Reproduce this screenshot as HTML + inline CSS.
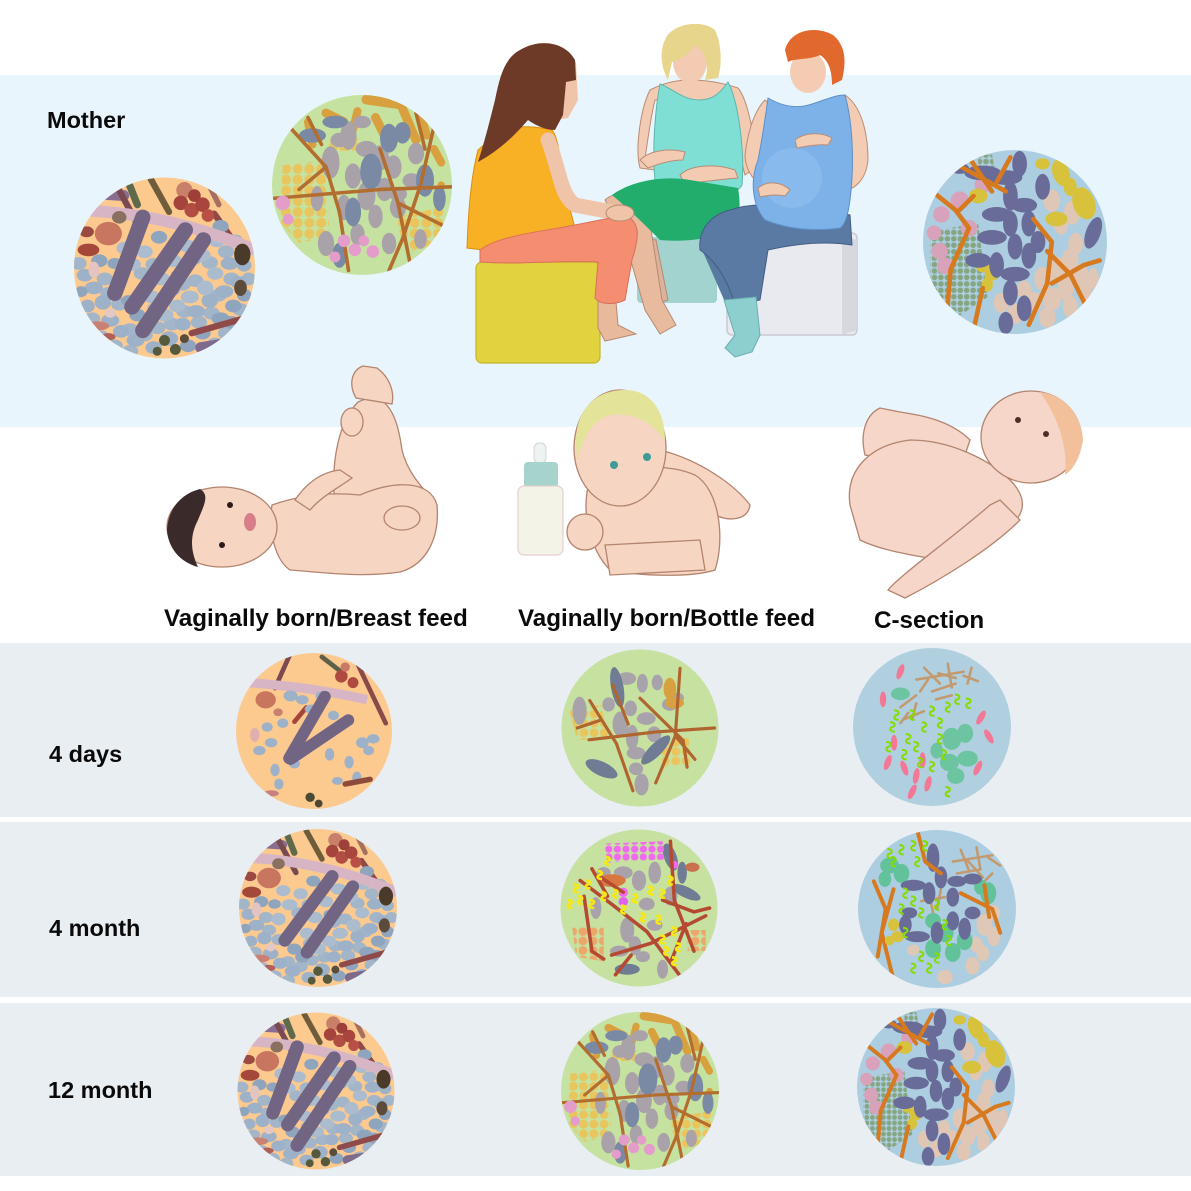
<!DOCTYPE html>
<html><head><meta charset="utf-8"><style>
html,body{margin:0;padding:0;background:#fff;}
svg{display:block;}
.t{font-family:"Liberation Sans",Arial,sans-serif;font-weight:bold;font-size:23.5px;fill:#0a0a0a;}
.c{font-size:24.2px;}
</style></head><body>
<svg width="1191" height="1191" viewBox="0 0 1191 1191" xmlns="http://www.w3.org/2000/svg">
<defs>
<clipPath id="cc"><circle r="100"/></clipPath>
<pattern id="pYel" width="13" height="12" patternUnits="userSpaceOnUse"><circle cx="6.5" cy="6" r="5.6" fill="#e9c55e"/></pattern>
<pattern id="pOrg" width="13" height="12" patternUnits="userSpaceOnUse"><circle cx="6.5" cy="6" r="5.6" fill="#eca76a"/></pattern>
<pattern id="pGg" width="7" height="7" patternUnits="userSpaceOnUse"><circle cx="3.5" cy="3.5" r="3" fill="#86a581"/></pattern>
<pattern id="pMag" width="11" height="10" patternUnits="userSpaceOnUse"><circle cx="5.5" cy="5" r="4.6" fill="#f06aef"/></pattern>
<path id="sp" d="M-3,-6 C4,-6 4,-1 0,0 C-4,1 -4,6 3,6" stroke="#84dc00" stroke-width="2.6" fill="none"/>
<path id="spy" d="M-3,-5 C4,-5 4,-1 0,0 C-4,1 -4,5 3,5" stroke="#f6e812" stroke-width="3.4" fill="none"/>
<ellipse id="pk" rx="4" ry="10" fill="#f27896"/>

<!-- ORANGE BASE -->
<g id="orBase">
<circle r="100" fill="#fcc98f"/>
<g clip-path="url(#cc)">
<line x1="-75" y1="-82" x2="-45" y2="-80" stroke="#8a6d90" stroke-width="12" stroke-linecap="round"/>
<line x1="-55" y1="-95" x2="-28" y2="-45" stroke="#7a4a52" stroke-width="7" stroke-linecap="round"/>
<line x1="-15" y1="-98" x2="5" y2="-62" stroke="#6f5c3a" stroke-width="7" stroke-linecap="round"/>
<line x1="-40" y1="-95" x2="-30" y2="-70" stroke="#5e6a4a" stroke-width="8" stroke-linecap="round"/>
<line x1="50" y1="-90" x2="60" y2="-70" stroke="#a57060" stroke-width="6" stroke-linecap="round"/>
<line x1="55" y1="-60" x2="90" y2="-10" stroke="#8f4a48" stroke-width="7" stroke-linecap="round"/>
<g fill="#a3b5c9">
<ellipse cx="-95" cy="-5" rx="9" ry="7"/><ellipse cx="-80" cy="56" rx="9" ry="7"/><ellipse cx="-70" cy="76" rx="9" ry="7"/><ellipse cx="-55" cy="86" rx="9" ry="7"/><ellipse cx="-38" cy="92" rx="9" ry="7"/><ellipse cx="-22" cy="74" rx="9" ry="7"/><ellipse cx="-8" cy="66" rx="9" ry="7"/><ellipse cx="8" cy="62" rx="9" ry="7"/><ellipse cx="22" cy="48" rx="9" ry="7"/><ellipse cx="38" cy="60" rx="9" ry="7"/><ellipse cx="52" cy="50" rx="9" ry="7"/><ellipse cx="68" cy="72" rx="9" ry="7"/><ellipse cx="56" cy="84" rx="9" ry="7"/><ellipse cx="84" cy="46" rx="9" ry="7"/><ellipse cx="93" cy="12" rx="8" ry="7"/><ellipse cx="78" cy="-30" rx="9" ry="7"/><ellipse cx="68" cy="-18" rx="9" ry="7"/><ellipse cx="50" cy="-6" rx="9" ry="7"/><ellipse cx="32" cy="-10" rx="9" ry="7"/><ellipse cx="20" cy="18" rx="9" ry="7"/><ellipse cx="34" cy="14" rx="9" ry="7"/><ellipse cx="-25" cy="6" rx="9" ry="7"/><ellipse cx="-12" cy="-4" rx="9" ry="7"/><ellipse cx="-62" cy="28" rx="9" ry="7"/><ellipse cx="-38" cy="68" rx="9" ry="7"/><ellipse cx="-66" cy="12" rx="9" ry="7"/><ellipse cx="-50" cy="40" rx="9" ry="7"/><ellipse cx="60" cy="30" rx="9" ry="7"/><ellipse cx="74" cy="12" rx="9" ry="7"/><ellipse cx="-10" cy="45" rx="9" ry="7"/>
</g>
<g fill="#9db1c8">
<ellipse cx="-88" cy="8" rx="9" ry="7"/><ellipse cx="-78" cy="22" rx="10" ry="7"/><ellipse cx="-68" cy="38" rx="9" ry="8"/><ellipse cx="-85" cy="42" rx="8" ry="7"/><ellipse cx="-60" cy="58" rx="10" ry="7"/><ellipse cx="-48" cy="70" rx="9" ry="7"/><ellipse cx="-32" cy="80" rx="10" ry="7"/><ellipse cx="-12" cy="88" rx="9" ry="7"/><ellipse cx="5" cy="78" rx="10" ry="8"/><ellipse cx="20" cy="62" rx="9" ry="7"/><ellipse cx="35" cy="48" rx="10" ry="7"/><ellipse cx="50" cy="36" rx="9" ry="8"/><ellipse cx="66" cy="26" rx="10" ry="7"/><ellipse cx="82" cy="16" rx="9" ry="7"/><ellipse cx="88" cy="-3" rx="8" ry="7"/><ellipse cx="72" cy="-5" rx="10" ry="7"/>
</g>
<g fill="#aabccd">
<ellipse cx="56" cy="6" rx="9" ry="7"/><ellipse cx="45" cy="22" rx="9" ry="8"/><ellipse cx="28" cy="32" rx="10" ry="7"/><ellipse cx="14" cy="42" rx="9" ry="7"/><ellipse cx="0" cy="52" rx="10" ry="7"/><ellipse cx="-14" cy="32" rx="9" ry="7"/><ellipse cx="-4" cy="12" rx="10" ry="7"/><ellipse cx="10" cy="-8" rx="9" ry="7"/><ellipse cx="26" cy="-24" rx="10" ry="7"/><ellipse cx="42" cy="-14" rx="9" ry="7"/><ellipse cx="58" cy="-30" rx="9" ry="7"/><ellipse cx="-22" cy="-18" rx="9" ry="7"/><ellipse cx="-36" cy="-4" rx="10" ry="7"/><ellipse cx="-50" cy="14" rx="9" ry="8"/><ellipse cx="-44" cy="-22" rx="9" ry="7"/>
</g>
<g fill="#8fa5bd">
<ellipse cx="-30" cy="52" rx="9" ry="7"/><ellipse cx="62" cy="56" rx="10" ry="7"/><ellipse cx="76" cy="42" rx="9" ry="7"/><ellipse cx="-72" cy="-8" rx="9" ry="7"/><ellipse cx="-92" cy="26" rx="7" ry="6"/><ellipse cx="42" cy="72" rx="9" ry="7"/><ellipse cx="26" cy="86" rx="9" ry="7"/><ellipse cx="-20" cy="62" rx="9" ry="7"/><ellipse cx="8" cy="24" rx="9" ry="7"/><ellipse cx="-6" cy="-34" rx="9" ry="7"/><ellipse cx="62" cy="-46" rx="9" ry="7"/><ellipse cx="74" cy="60" rx="9" ry="7"/><ellipse cx="88" cy="30" rx="8" ry="7"/><ellipse cx="-55" cy="-5" rx="8" ry="6"/><ellipse cx="15" cy="8" rx="8" ry="6"/><ellipse cx="-40" cy="36" rx="8" ry="6"/>
</g>
<path d="M-100,-64 Q0,-62 100,-20" stroke="#d8b5c5" stroke-width="13" fill="none"/>
<circle cx="22" cy="-86" r="9" fill="#c9806a"/>
<circle cx="18" cy="-72" r="8" fill="#a4443c"/><circle cx="30" cy="-64" r="8" fill="#b14d42"/><circle cx="42" cy="-70" r="8" fill="#a8453d"/><circle cx="33" cy="-80" r="7" fill="#9e4039"/><circle cx="48" cy="-58" r="7" fill="#b85045"/>
<ellipse cx="-62" cy="-38" rx="15" ry="13" fill="#c97660"/>
<ellipse cx="-50" cy="-56" rx="8" ry="7" fill="#8a7060"/>
<ellipse cx="-84" cy="-20" rx="12" ry="7" fill="#a4493a"/>
<ellipse cx="-86" cy="-40" rx="8" ry="6" fill="#9a4a40"/>
<ellipse cx="86" cy="-15" rx="9" ry="12" fill="#4a3a2a"/>
<ellipse cx="84" cy="22" rx="7" ry="9" fill="#5c4a3a"/>
<line x1="30" y1="72" x2="90" y2="55" stroke="#8f4b4a" stroke-width="7" stroke-linecap="round"/>
<line x1="40" y1="88" x2="78" y2="82" stroke="#7d6a8c" stroke-width="12" stroke-linecap="round"/>
<circle cx="0" cy="80" r="6" fill="#565a3c"/><circle cx="12" cy="90" r="6" fill="#565a3c"/><circle cx="-8" cy="92" r="5" fill="#565a3c"/><circle cx="22" cy="78" r="5" fill="#5b4b3a"/>
<ellipse cx="-74" cy="64" rx="13" ry="5" fill="#c98075"/>
<ellipse cx="-62" cy="76" rx="8" ry="4" fill="#b0605a"/>
<ellipse cx="-78" cy="2" rx="6" ry="9" fill="#e4c4c0"/>
<ellipse cx="-60" cy="50" rx="6" ry="5" fill="#e4c8c4"/>
</g>
</g>
<g id="orFull">
<use href="#orBase"/>
<g clip-path="url(#cc)" stroke="#716583" stroke-width="17" stroke-linecap="round">
<line x1="-24" y1="-56" x2="-55" y2="28"/><line x1="23" y1="-42" x2="-36" y2="43"/><line x1="43" y1="-31" x2="-24" y2="69"/>
</g>
</g>
<g id="orMid">
<use href="#orBase"/>
<g clip-path="url(#cc)" stroke="#716583" stroke-width="16" stroke-linecap="round">
<line x1="18" y1="-40" x2="-42" y2="41"/><line x1="44" y1="-27" x2="-14" y2="56"/>
</g>
</g>
<g id="orSparse">
<circle r="100" fill="#fcc98f"/>
<g clip-path="url(#cc)">
<line x1="-30" y1="-100" x2="-50" y2="-55" stroke="#7b4a50" stroke-width="6" stroke-linecap="round"/>
<line x1="10" y1="-95" x2="40" y2="-72" stroke="#5e6048" stroke-width="6" stroke-linecap="round"/>
<line x1="55" y1="-88" x2="92" y2="-10" stroke="#8a4a4a" stroke-width="6" stroke-linecap="round"/>
<ellipse cx="-70" cy="-85" rx="8" ry="6" fill="#8a6d90"/>
<path d="M-85,-62 Q0,-56 68,-40" stroke="#d8b5c5" stroke-width="12" fill="none"/>
<circle cx="35" cy="-70" r="8" fill="#b04a40"/><circle cx="50" cy="-62" r="7" fill="#b04a40"/><circle cx="40" cy="-82" r="6" fill="#c97a66"/>
<ellipse cx="-62" cy="-40" rx="13" ry="11" fill="#c9765f"/>
<ellipse cx="-46" cy="-24" rx="6" ry="5" fill="#c98070"/>
<line x1="-10" y1="-30" x2="-25" y2="-12" stroke="#a5453a" stroke-width="6" stroke-linecap="round"/>
<g fill="#9db1c8">
<ellipse cx="-30" cy="-45" rx="9" ry="7"/><ellipse cx="-15" cy="-40" rx="8" ry="6"/><ellipse cx="-3" cy="-28" rx="9" ry="6"/><ellipse cx="10" cy="-45" rx="8" ry="6"/><ellipse cx="-40" cy="-10" rx="7" ry="6"/><ellipse cx="-55" cy="15" rx="8" ry="6"/><ellipse cx="-70" cy="25" rx="8" ry="6"/><ellipse cx="-60" cy="-5" rx="7" ry="6"/><ellipse cx="25" cy="-20" rx="7" ry="6"/><ellipse cx="62" cy="15" rx="8" ry="7"/><ellipse cx="76" cy="10" rx="8" ry="6"/><ellipse cx="70" cy="25" rx="7" ry="6"/><ellipse cx="45" cy="40" rx="6" ry="8"/><ellipse cx="55" cy="60" rx="6" ry="8"/><ellipse cx="30" cy="64" rx="7" ry="5"/><ellipse cx="-50" cy="50" rx="6" ry="8"/><ellipse cx="-45" cy="68" rx="6" ry="7"/><ellipse cx="20" cy="30" rx="6" ry="8"/><ellipse cx="-25" cy="42" rx="7" ry="6"/>
</g>
<ellipse cx="-76" cy="5" rx="6" ry="9" fill="#e0b0b0"/>
<g stroke="#716583" stroke-width="15" stroke-linecap="round">
<line x1="14" y1="-44" x2="-32" y2="35"/><line x1="44" y1="-14" x2="-30" y2="36"/>
</g>
<line x1="40" y1="68" x2="72" y2="62" stroke="#8f4b3a" stroke-width="7" stroke-linecap="round"/>
<circle cx="-5" cy="85" r="6" fill="#4a4a35"/><circle cx="6" cy="93" r="5" fill="#4a4a35"/>
<ellipse cx="-55" cy="80" rx="10" ry="4" fill="#c98080"/>
</g>
</g>

<!-- GREEN FULL -->
<g id="grFull">
<circle r="100" fill="#c5e2a0"/>
<g clip-path="url(#cc)">
<path d="M-88,-22 L-40,-28 L-36,58 L-70,64 L-92,40 Z" fill="url(#pYel)"/>
<path d="M36,36 L92,24 L92,62 L50,76 Z" fill="url(#pYel)"/>
<path d="M-36,-50 L-5,-52 L-5,-38 L-36,-38 Z" fill="url(#pYel)"/>
<g stroke="#d9a03f" stroke-linecap="round">
<line x1="-40" y1="-80" x2="-20" y2="-70" stroke-width="10"/><line x1="5" y1="-95" x2="40" y2="-90" stroke-width="11"/><line x1="15" y1="-75" x2="25" y2="-55" stroke-width="10"/><line x1="45" y1="-85" x2="60" y2="-50" stroke-width="10"/><line x1="65" y1="-80" x2="72" y2="-55" stroke-width="9"/><line x1="80" y1="-40" x2="88" y2="-25" stroke-width="9"/><line x1="-60" y1="-70" x2="-55" y2="-45" stroke-width="9"/><line x1="88" y1="0" x2="84" y2="20" stroke-width="8"/><line x1="-5" y1="-82" x2="-10" y2="-62" stroke-width="9"/>
</g>
<g fill="#a9a2a9">
<ellipse cx="-35" cy="-25" rx="10" ry="18"/><ellipse cx="-15" cy="-55" rx="9" ry="16"/><ellipse cx="5" cy="-40" rx="12" ry="9"/><ellipse cx="20" cy="-30" rx="10" ry="14"/><ellipse cx="35" cy="-20" rx="9" ry="13"/><ellipse cx="-10" cy="-10" rx="9" ry="14"/><ellipse cx="5" cy="12" rx="10" ry="16"/><ellipse cx="25" cy="5" rx="9" ry="13"/><ellipse cx="40" cy="10" rx="10" ry="8"/><ellipse cx="-20" cy="25" rx="8" ry="14"/><ellipse cx="15" cy="35" rx="8" ry="13"/><ellipse cx="-40" cy="65" rx="9" ry="14"/><ellipse cx="40" cy="25" rx="9" ry="12"/><ellipse cx="55" cy="-5" rx="10" ry="8"/><ellipse cx="60" cy="-35" rx="9" ry="12"/><ellipse cx="0" cy="-70" rx="10" ry="7"/><ellipse cx="-25" cy="-50" rx="10" ry="8"/><ellipse cx="30" cy="65" rx="8" ry="12"/><ellipse cx="-5" cy="55" rx="8" ry="12"/><ellipse cx="-50" cy="15" rx="7" ry="14"/><ellipse cx="65" cy="60" rx="7" ry="11"/>
</g>
<g fill="#7a8aa5">
<ellipse cx="-55" cy="-55" rx="15" ry="8"/><ellipse cx="-30" cy="-70" rx="14" ry="7"/><ellipse cx="10" cy="-15" rx="12" ry="20"/><ellipse cx="30" cy="-52" rx="10" ry="16"/><ellipse cx="70" cy="-5" rx="10" ry="18"/><ellipse cx="86" cy="15" rx="7" ry="14"/><ellipse cx="-10" cy="30" rx="9" ry="16"/><ellipse cx="45" cy="-58" rx="9" ry="12"/><ellipse cx="-25" cy="78" rx="8" ry="14"/>
</g>
<g stroke="#b36d2f" stroke-width="4" fill="none" stroke-linecap="round">
<path d="M-90,-75 L-40,-20 L-25,30 L-15,95"/><path d="M-100,15 L20,5 L100,2"/><path d="M20,-40 L40,20 L55,95"/><path d="M80,-65 L65,0 L45,60 L30,95"/><path d="M-60,-75 L-45,-45"/><path d="M-40,-20 L-70,5"/><path d="M40,20 L90,45"/><path d="M60,-80 L70,-40"/>
</g>
<g fill="#e49ccb">
<circle cx="-20" cy="62" r="7"/><circle cx="-8" cy="72" r="7"/><circle cx="2" cy="62" r="6"/><circle cx="12" cy="74" r="7"/><circle cx="-88" cy="20" r="8"/><circle cx="-82" cy="38" r="6"/><circle cx="-30" cy="80" r="6"/>
</g>
</g>
</g>

<!-- GREEN 4 DAYS -->
<g id="gr4d">
<circle r="100" fill="#c6e1a0"/>
<g clip-path="url(#cc)">
<path d="M-90,-22 L-50,-30 L-40,12 L-80,16 Z" fill="url(#pYel)"/>
<path d="M22,18 L62,12 L66,46 L30,50 Z" fill="url(#pYel)"/>
<g fill="#a8a2aa">
<ellipse cx="-77" cy="-22" rx="9" ry="18"/><ellipse cx="-17" cy="-63" rx="12" ry="8"/><ellipse cx="3" cy="-57" rx="7" ry="12"/><ellipse cx="22" cy="-58" rx="7" ry="10"/><ellipse cx="-40" cy="-30" rx="8" ry="9"/><ellipse cx="-25" cy="-5" rx="10" ry="16"/><ellipse cx="-12" cy="-25" rx="8" ry="10"/><ellipse cx="-10" cy="12" rx="8" ry="16"/><ellipse cx="-5" cy="32" rx="12" ry="8"/><ellipse cx="-5" cy="52" rx="9" ry="8"/><ellipse cx="2" cy="72" rx="9" ry="14"/><ellipse cx="8" cy="-12" rx="12" ry="8"/><ellipse cx="18" cy="8" rx="9" ry="10"/><ellipse cx="38" cy="-30" rx="10" ry="8"/><ellipse cx="48" cy="-38" rx="8" ry="7"/>
</g>
<g fill="#d9a040"><ellipse cx="38" cy="-50" rx="8" ry="14"/><ellipse cx="44" cy="-32" rx="12" ry="7"/></g>
<g fill="#6f7c94">
<ellipse cx="-29" cy="-52" rx="8" ry="26" transform="rotate(-10 -29 -52)"/><ellipse cx="-49" cy="52" rx="22" ry="9" transform="rotate(25 -49 52)"/><ellipse cx="20" cy="28" rx="8" ry="25" transform="rotate(45 20 28)"/>
</g>
<g stroke="#b0652f" stroke-width="4" fill="none" stroke-linecap="round">
<path d="M-64,-35 L-30,20 L-9,80"/><path d="M-65,15 L20,5 L95,0"/><path d="M-35,-55 L-15,-5"/><path d="M0,-38 L55,16 L60,50"/><path d="M51,-76 L45,10 L20,70"/><path d="M-50,-10 L-80,0"/><path d="M45,10 L70,40"/>
</g>
</g>
</g>

<!-- GREEN 4 MONTH -->
<g id="gr4m">
<circle r="100" fill="#c6e1a0"/>
<g clip-path="url(#cc)">
<path d="M-85,25 L-45,25 L-45,68 L-80,62 Z" fill="url(#pOrg)"/>
<path d="M62,28 L85,28 L85,55 L62,55 Z" fill="url(#pOrg)"/>
<g fill="#a9a2aa">
<ellipse cx="-20" cy="-45" rx="12" ry="8"/><ellipse cx="0" cy="-35" rx="9" ry="13"/><ellipse cx="20" cy="-45" rx="8" ry="14"/><ellipse cx="10" cy="-5" rx="10" ry="8"/><ellipse cx="-55" cy="0" rx="7" ry="14"/><ellipse cx="-15" cy="28" rx="9" ry="16"/><ellipse cx="20" cy="22" rx="10" ry="7"/><ellipse cx="-5" cy="48" rx="8" ry="12"/><ellipse cx="40" cy="-15" rx="9" ry="12"/><ellipse cx="30" cy="78" rx="7" ry="12"/><ellipse cx="-45" cy="-45" rx="9" ry="7"/><ellipse cx="-25" cy="55" rx="12" ry="7"/><ellipse cx="5" cy="62" rx="9" ry="7"/>
</g>
<g fill="#6f7c94">
<ellipse cx="40" cy="-65" rx="8" ry="18" transform="rotate(-20 40 -65)"/><ellipse cx="60" cy="-20" rx="20" ry="7" transform="rotate(25 60 -20)"/><ellipse cx="-15" cy="78" rx="16" ry="7"/><ellipse cx="55" cy="-45" rx="6" ry="14"/>
</g>
<ellipse cx="-35" cy="-35" rx="18" ry="8" fill="#d77840"/>
<ellipse cx="68" cy="-52" rx="9" ry="6" fill="#c87050"/>
<path d="M-45,-82 L30,-85 L35,-62 L-40,-58 Z" fill="url(#pMag)"/>
<circle cx="-20" cy="-20" r="6" fill="#f06aef"/><circle cx="-20" cy="-8" r="6" fill="#e060f0"/><circle cx="45" cy="-55" r="5" fill="#f06aef"/>
<g stroke="#b54a32" stroke-width="4.5" fill="none" stroke-linecap="round">
<path d="M-75,-35 L-35,-5 L10,30 L55,90"/><path d="M-70,-15 L-60,55 L-45,65"/><path d="M-35,60 L15,45 L85,10"/><path d="M40,-85 L45,-10 L70,55"/><path d="M30,-10 L70,5 L90,0"/><path d="M-50,-40 L-20,-20"/><path d="M-10,60 L-30,85"/><path d="M60,20 L40,70"/><path d="M-60,-50 L-40,-15"/>
</g>
<g>
<use href="#spy" x="-80" y="-25"/><use href="#spy" x="-75" y="-10"/><use href="#spy" x="-65" y="-30"/><use href="#spy" x="-50" y="-42"/><use href="#spy" x="-45" y="-15"/><use href="#spy" x="-30" y="-18"/><use href="#spy" x="-20" y="2"/><use href="#spy" x="-5" y="-12"/><use href="#spy" x="15" y="-22"/><use href="#spy" x="30" y="-18"/><use href="#spy" x="40" y="-35"/><use href="#spy" x="5" y="12"/><use href="#spy" x="25" y="15"/><use href="#spy" x="30" y="40"/><use href="#spy" x="45" y="30"/><use href="#spy" x="35" y="55"/><use href="#spy" x="50" y="50"/><use href="#spy" x="45" y="68"/><use href="#spy" x="-60" y="-5"/><use href="#spy" x="-88" y="-5"/><use href="#spy" x="-40" y="-60"/>
</g>
</g>
</g>

<!-- BLUE FULL -->
<g id="blFull">
<circle r="100" fill="#adcee0"/>
<g clip-path="url(#cc)">
<path d="M-92,-12 L-40,-20 L-30,60 L-60,80 L-92,50 Z" fill="url(#pGg)"/>
<path d="M-40,-95 L-25,-95 L-20,-70 L-40,-70 Z" fill="url(#pGg)"/>
<g fill="#e0c6b4">
<ellipse cx="30" cy="40" rx="9" ry="13"/><ellipse cx="45" cy="30" rx="10" ry="14"/><ellipse cx="60" cy="20" rx="9" ry="13"/><ellipse cx="72" cy="36" rx="8" ry="12"/><ellipse cx="55" cy="50" rx="9" ry="13"/><ellipse cx="40" cy="62" rx="10" ry="13"/><ellipse cx="20" cy="66" rx="9" ry="12"/><ellipse cx="35" cy="82" rx="9" ry="11"/><ellipse cx="60" cy="70" rx="8" ry="12"/><ellipse cx="76" cy="55" rx="7" ry="11"/><ellipse cx="10" cy="52" rx="8" ry="10"/><ellipse cx="0" cy="78" rx="9" ry="11"/><ellipse cx="-15" cy="66" rx="8" ry="11"/><ellipse cx="50" cy="-20" rx="8" ry="12"/><ellipse cx="62" cy="-32" rx="9" ry="13"/><ellipse cx="40" cy="-45" rx="9" ry="12"/><ellipse cx="66" cy="2" rx="8" ry="12"/><ellipse cx="85" cy="40" rx="6" ry="12"/>
</g>
<g fill="#d8a2bb">
<circle cx="-80" cy="-30" r="9"/><circle cx="-88" cy="-10" r="8"/><circle cx="-82" cy="10" r="9"/><circle cx="-76" cy="26" r="9"/><circle cx="-60" cy="-45" r="10"/><circle cx="-35" cy="-62" r="9"/><circle cx="-50" cy="-15" r="9"/>
</g>
<g fill="#d8c23c">
<ellipse cx="50" cy="-75" rx="9" ry="15" transform="rotate(-20 50 -75)"/><ellipse cx="60" cy="-60" rx="7" ry="10"/><ellipse cx="75" cy="-42" rx="12" ry="18" transform="rotate(-20 75 -42)"/><ellipse cx="45" cy="-25" rx="12" ry="8"/><ellipse cx="-40" cy="-50" rx="10" ry="8"/><ellipse cx="-35" cy="25" rx="8" ry="8"/><ellipse cx="-25" cy="35" rx="8" ry="7"/><ellipse cx="-30" cy="46" rx="6" ry="8"/><ellipse cx="30" cy="-85" rx="8" ry="6"/>
</g>
<g fill="#696b98">
<ellipse cx="-35" cy="-75" rx="20" ry="8"/><ellipse cx="-10" cy="-70" rx="18" ry="8"/><ellipse cx="5" cy="-85" rx="8" ry="14"/><ellipse cx="-5" cy="-50" rx="8" ry="16"/><ellipse cx="10" cy="-40" rx="14" ry="8"/><ellipse cx="-20" cy="-30" rx="16" ry="8"/><ellipse cx="-5" cy="-20" rx="8" ry="14"/><ellipse cx="15" cy="-20" rx="8" ry="14"/><ellipse cx="-25" cy="-5" rx="16" ry="8"/><ellipse cx="0" cy="5" rx="8" ry="14"/><ellipse cx="-40" cy="20" rx="14" ry="8"/><ellipse cx="-20" cy="25" rx="8" ry="14"/><ellipse cx="0" cy="35" rx="16" ry="8"/><ellipse cx="15" cy="15" rx="8" ry="14"/><ellipse cx="-5" cy="55" rx="8" ry="14"/><ellipse cx="10" cy="72" rx="8" ry="14"/><ellipse cx="-10" cy="88" rx="8" ry="12"/><ellipse cx="25" cy="0" rx="8" ry="12"/><ellipse cx="30" cy="-60" rx="8" ry="14"/><ellipse cx="85" cy="-10" rx="8" ry="18" transform="rotate(20 85 -10)"/><ellipse cx="-60" cy="-80" rx="10" ry="6"/>
</g>
<g stroke="#d6791f" stroke-width="5" fill="none" stroke-linecap="round">
<path d="M-70,-88 L-10,-55"/><path d="M-50,-92 L-25,-55"/><path d="M-90,-55 L-65,-35 L-50,-15 L-70,30 L-75,90"/><path d="M-60,-35 L-45,-50"/><path d="M20,-25 L40,0 L35,45 L15,90"/><path d="M35,10 L60,35 L80,75"/><path d="M40,45 L75,25 L92,20"/><path d="M-35,50 L-45,95"/><path d="M-5,-92 L-20,-65"/>
</g>
</g>
</g>

<!-- BLUE 4 DAYS -->
<g id="bl4d">
<circle r="100" fill="#b0cfdf"/>
<g clip-path="url(#cc)">
<g stroke="#c39a70" stroke-width="3.2" fill="none" stroke-linecap="round">
<path d="M-20,-60 L40,-70"/><path d="M-10,-75 L10,-55"/><path d="M20,-80 L25,-50"/><path d="M40,-65 L58,-58"/><path d="M0,-45 L30,-55"/><path d="M-40,-25 L-20,-40"/><path d="M-35,-10 L-10,-20"/><path d="M-20,-30 L-25,-10"/><path d="M50,-75 L45,-55"/><path d="M-5,-60 L-15,-45"/><path d="M25,-40 L5,-35"/><path d="M8,-68 L30,-62"/><path d="M-30,-18 L-40,-5"/>
</g>
<g fill="#6cc4a0">
<ellipse cx="-40" cy="-42" rx="12" ry="8"/><ellipse cx="25" cy="15" rx="12" ry="14"/><ellipse cx="42" cy="8" rx="10" ry="12"/><ellipse cx="45" cy="40" rx="13" ry="10"/><ellipse cx="22" cy="45" rx="12" ry="11"/><ellipse cx="30" cy="62" rx="11" ry="10"/><ellipse cx="6" cy="30" rx="8" ry="10"/>
</g>
<use href="#pk" transform="translate(-40 -70) rotate(20)"/><use href="#pk" transform="translate(-62 -35)"/><use href="#pk" transform="translate(-48 20)"/><use href="#pk" transform="translate(-56 45) rotate(20)"/><use href="#pk" transform="translate(-35 52) rotate(-20)"/><use href="#pk" transform="translate(-20 62) rotate(10)"/><use href="#pk" transform="translate(-25 82) rotate(25)"/><use href="#pk" transform="translate(-5 72) rotate(15)"/><use href="#pk" transform="translate(-12 42)"/><use href="#pk" transform="translate(62 -12) rotate(30)"/><use href="#pk" transform="translate(72 12) rotate(-30)"/><use href="#pk" transform="translate(58 52) rotate(25)"/>
<use href="#sp" x="-50" y="0"/><use href="#sp" x="-45" y="-15"/><use href="#sp" x="-55" y="25"/><use href="#sp" x="-30" y="15"/><use href="#sp" x="-20" y="25"/><use href="#sp" x="-10" y="0"/><use href="#sp" x="0" y="-20"/><use href="#sp" x="10" y="-5"/><use href="#sp" x="20" y="-25"/><use href="#sp" x="32" y="-35"/><use href="#sp" x="46" y="-30"/><use href="#sp" x="-25" y="-15"/><use href="#sp" x="-15" y="45"/><use href="#sp" x="0" y="50"/><use href="#sp" x="15" y="35"/><use href="#sp" x="20" y="82"/><use href="#sp" x="-35" y="35"/><use href="#sp" x="10" y="15"/>
</g>
</g>

<!-- BLUE 4 MONTH -->
<g id="bl4m">
<circle r="100" fill="#adcee0"/>
<g clip-path="url(#cc)">
<g stroke="#c39a70" stroke-width="3.2" fill="none" stroke-linecap="round">
<path d="M20,-60 L70,-68"/><path d="M30,-75 L40,-50"/><path d="M50,-78 L55,-50"/><path d="M65,-65 L80,-55"/><path d="M25,-45 L55,-50"/><path d="M-20,-10 L10,-15"/><path d="M-10,-20 L-5,5"/><path d="M5,-25 L0,0"/><path d="M70,-45 L60,-35"/><path d="M38,-62 L58,-40"/>
</g>
<g fill="#dfc8b6">
<ellipse cx="60" cy="20" rx="10" ry="14"/><ellipse cx="72" cy="35" rx="8" ry="12"/><ellipse cx="50" cy="45" rx="8" ry="10"/><ellipse cx="45" cy="72" rx="9" ry="11"/><ellipse cx="58" cy="56" rx="8" ry="10"/><ellipse cx="-30" cy="52" rx="8" ry="7"/><ellipse cx="10" cy="86" rx="10" ry="9"/><ellipse cx="72" cy="5" rx="8" ry="10"/>
</g>
<g fill="#62c29a">
<ellipse cx="-60" cy="-55" rx="12" ry="10"/><ellipse cx="-45" cy="-45" rx="10" ry="12"/><ellipse cx="-66" cy="-38" rx="8" ry="10"/><ellipse cx="65" cy="-20" rx="10" ry="14"/><ellipse cx="55" cy="-28" rx="8" ry="10"/><ellipse cx="-5" cy="15" rx="10" ry="10"/><ellipse cx="10" cy="30" rx="11" ry="12"/><ellipse cx="-5" cy="50" rx="10" ry="12"/><ellipse cx="20" cy="55" rx="10" ry="12"/><ellipse cx="35" cy="40" rx="10" ry="12"/>
</g>
<g fill="#6a6c98">
<ellipse cx="-5" cy="-65" rx="8" ry="18"/><ellipse cx="5" cy="-40" rx="8" ry="14"/><ellipse cx="-30" cy="-30" rx="16" ry="7"/><ellipse cx="-10" cy="-20" rx="8" ry="14"/><ellipse cx="20" cy="-15" rx="8" ry="12"/><ellipse cx="-35" cy="5" rx="10" ry="7"/><ellipse cx="-40" cy="20" rx="8" ry="12"/><ellipse cx="-25" cy="35" rx="16" ry="7"/><ellipse cx="0" cy="30" rx="8" ry="14"/><ellipse cx="20" cy="15" rx="8" ry="12"/><ellipse cx="35" cy="25" rx="8" ry="14"/><ellipse cx="25" cy="-35" rx="12" ry="7"/><ellipse cx="45" cy="-38" rx="12" ry="7"/><ellipse cx="45" cy="5" rx="10" ry="8"/>
</g>
<g stroke="#d6791f" stroke-width="5" fill="none" stroke-linecap="round">
<path d="M-25,-100 L-15,-60 L5,-45"/><path d="M-80,-35 L-65,0 L-75,60"/><path d="M-55,-25 L-70,30 L-55,90"/><path d="M30,-20 L70,0 L80,30"/><path d="M60,-30 L66,10"/>
</g>
<g fill="#d8c23c"><ellipse cx="-55" cy="20" rx="7" ry="8"/><ellipse cx="-50" cy="35" rx="8" ry="7"/><ellipse cx="-60" cy="40" rx="6" ry="6"/></g>
<use href="#sp" x="-60" y="-70"/><use href="#sp" x="-45" y="-75"/><use href="#sp" x="-30" y="-80"/><use href="#sp" x="-15" y="-80"/><use href="#sp" x="-55" y="-60"/><use href="#sp" x="-25" y="-60"/><use href="#sp" x="-40" y="-20"/><use href="#sp" x="-30" y="-10"/><use href="#sp" x="-45" y="0"/><use href="#sp" x="-40" y="30"/><use href="#sp" x="-20" y="5"/><use href="#sp" x="0" y="-5"/><use href="#sp" x="10" y="20"/><use href="#sp" x="15" y="40"/><use href="#sp" x="-20" y="60"/><use href="#sp" x="-10" y="75"/><use href="#sp" x="-30" y="75"/><use href="#sp" x="0" y="62"/>
</g>
</g>
</defs>

<!-- BACKGROUNDS -->
<rect x="0" y="0" width="1191" height="1191" fill="#ffffff"/>
<rect x="0" y="75" width="1191" height="352" fill="#e9f5fd"/>
<rect x="0" y="643" width="1191" height="174" fill="#e9eef3"/>
<rect x="0" y="822" width="1191" height="175" fill="#e9eef3"/>
<rect x="0" y="1003" width="1191" height="173" fill="#e9eef3"/>

<!-- MOTHER CIRCLES -->
<use href="#orFull" transform="translate(164.5 268) scale(0.905)"/>
<use href="#grFull" transform="translate(362 185) scale(0.9)"/>
<use href="#blFull" transform="translate(1015 242) scale(0.92)"/>

<!-- WOMEN: stools -->
<rect x="637" y="237" width="80" height="66" rx="4" fill="#a2d3cf"/>
<rect x="727" y="233" width="130" height="102" rx="5" fill="#e9e9f0" stroke="#c9c9d3" stroke-width="1.5"/>
<path d="M842,236 L857,240 L857,330 L842,335 Z" fill="#d7d7e0"/>
<rect x="476" y="262" width="124" height="101" rx="6" fill="#e1d23e" stroke="#c4b530" stroke-width="1.2"/>

<!-- Woman 2 (middle) -->
<path d="M630,235 L656,240 L668,300 L652,305 Z" fill="#ddb29a" stroke="#b58a74" stroke-width="1"/>
<path d="M605,200 C615,190 640,192 648,210 L662,300 L676,325 L660,334 L645,310 L625,240 Z" fill="#e8bb9e" stroke="#b58a74" stroke-width="1"/>
<path d="M650,90 C665,82 680,80 690,80 C705,80 720,82 738,88 C748,100 752,130 760,165 L745,175 C738,150 735,120 730,100 L655,100 C650,120 648,140 645,158 L675,165 L670,172 L640,168 C635,150 640,110 650,90 Z" fill="#f3cbb2" stroke="#b98c76" stroke-width="1"/>
<path d="M660,84 C672,88 682,100 700,100 C715,100 722,90 728,82 C738,100 745,150 742,185 C738,193 725,195 715,190 C690,190 665,188 655,180 C652,150 655,110 660,84 Z" fill="#7fdfd5" stroke="#5fb5ad" stroke-width="1"/>
<path d="M680,175 C690,165 715,163 735,170 L738,178 C715,180 700,182 685,184 Z" fill="#f3cbb2" stroke="#b98c76" stroke-width="1"/>
<path d="M640,160 C650,150 670,148 685,152 L683,160 C670,160 658,164 648,168 Z" fill="#f3cbb2" stroke="#b98c76" stroke-width="1"/>
<path d="M612,195 C630,182 660,175 690,180 L738,188 C742,210 738,225 730,232 C705,240 680,242 660,240 C645,225 630,210 612,195 Z" fill="#23ad6d"/>
<ellipse cx="690" cy="62" rx="17" ry="21" fill="#f3cbb2"/>
<path d="M665,40 C670,25 700,18 715,30 C722,45 722,65 718,78 L705,80 C710,65 705,50 695,45 C688,55 680,60 672,62 L668,80 C660,65 660,50 665,40 Z" fill="#e6d58a"/>

<!-- Woman 3 (right) -->
<path d="M700,245 L722,245 L742,300 L725,302 Z" fill="#587aa1"/>
<path d="M730,210 C760,200 800,205 850,215 L852,245 C820,240 790,245 768,250 L760,300 L735,305 C728,280 715,260 700,250 C698,230 710,215 730,210 Z" fill="#5a7aa3" stroke="#415d82" stroke-width="1"/>
<path d="M724,300 L756,297 L760,335 L752,352 L735,357 L725,348 L735,335 Z" fill="#8dcfcf" stroke="#6aaeae" stroke-width="1"/>
<path d="M765,100 C755,110 748,130 745,155 C745,170 755,185 770,190 L775,180 C765,170 762,155 765,140 L775,110 Z" fill="#f4ccb4" stroke="#b98c76" stroke-width="1"/>
<path d="M845,95 C860,105 868,130 868,160 C866,180 855,190 840,192 L835,180 C845,175 850,165 848,150 L840,110 Z" fill="#f4ccb4" stroke="#b98c76" stroke-width="1"/>
<path d="M768,98 C780,105 795,110 812,104 C825,100 835,95 845,95 C852,120 855,160 850,200 C848,215 845,225 840,228 C810,232 785,228 765,220 C752,205 750,180 758,160 C762,140 765,120 768,98 Z" fill="#7db2e8" stroke="#5d90c8" stroke-width="1"/>
<circle cx="792" cy="178" r="30" fill="#88baee"/>
<path d="M758,188 C768,180 782,182 790,190 L785,196 C776,194 768,195 760,197 Z" fill="#f4ccb4" stroke="#b98c76" stroke-width="1"/>
<path d="M795,140 C805,132 822,132 832,138 L828,145 C818,144 806,146 797,148 Z" fill="#f4ccb4" stroke="#b98c76" stroke-width="1"/>
<ellipse cx="808" cy="72" rx="18" ry="21" fill="#f4ccb4"/>
<path d="M785,50 C790,30 815,25 833,35 C845,45 847,60 842,80 L832,85 C832,70 828,60 820,55 C810,60 795,58 788,62 Z" fill="#e1692d"/>

<!-- Woman 1 (left) -->
<path d="M598,290 L615,290 L618,325 L636,334 L605,341 L598,328 Z" fill="#e9b99b" stroke="#b58a74" stroke-width="1"/>
<path d="M558,60 L576,62 L578,100 L568,118 L556,120 Z" fill="#f0c4a8"/>
<path d="M478,150 C470,180 468,220 467,248 L500,252 C530,240 560,238 575,228 L565,190 C560,165 560,140 552,130 C530,125 510,125 495,135 Z" fill="#f8b024" stroke="#d98f10" stroke-width="1"/>
<path d="M548,140 C560,170 560,195 575,205 L612,212" stroke="#f0c4a8" stroke-width="15" fill="none" stroke-linecap="round"/>
<path d="M480,250 C500,235 540,232 575,225 L625,215 C640,222 640,235 632,260 L625,300 C615,305 600,305 595,298 L598,262 C560,260 520,265 480,262 Z" fill="#f58d70" stroke="#d9705a" stroke-width="1"/>
<ellipse cx="620" cy="213" rx="14" ry="8" fill="#f0c4a8" stroke="#b58a74" stroke-width="1"/>
<path d="M520,50 C540,38 565,42 575,60 L576,80 L566,82 L563,115 L555,130 C545,130 535,125 528,120 C515,135 500,150 478,162 C485,140 490,120 495,100 C500,75 505,58 520,50 Z" fill="#6d3a28"/>

<!-- BABY 1 -->
<g stroke="#b3846f" stroke-width="1.3" fill="#f6d5c2">
<path d="M335,505 C330,460 340,420 358,402 L372,396 C390,400 398,420 402,450 C408,475 425,490 437,505 Z"/>
<path d="M356,398 C348,384 352,370 363,366 L377,368 C388,376 395,390 392,404 Z"/>
<ellipse cx="352" cy="422" rx="11" ry="14"/>
<path d="M272,505 C300,495 330,492 360,495 C395,480 430,480 437,505 C440,540 425,565 400,572 C360,578 320,572 290,570 C275,560 268,530 272,505 Z"/>
<path d="M295,500 C305,485 320,472 340,470 L352,478 C338,488 322,496 310,510 Z"/>
<ellipse cx="402" cy="518" rx="18" ry="12"/>
<ellipse cx="222" cy="527" rx="55" ry="40"/>
</g>
<path d="M200,489 C180,494 168,510 167,530 C168,548 180,562 198,567 C190,550 190,535 198,520 C204,505 210,495 200,489 Z" fill="#3b2a2a"/>
<ellipse cx="250" cy="522" rx="6" ry="9" fill="#d77f88"/>
<circle cx="230" cy="505" r="3" fill="#2a1a1a"/><circle cx="222" cy="545" r="3" fill="#2a1a1a"/>

<!-- BABY 2 + bottle -->
<rect x="534" y="443" width="12" height="20" rx="5" fill="#eef2f0" stroke="#d0d8d6" stroke-width="1"/>
<rect x="524" y="462" width="34" height="26" rx="4" fill="#a6d3cb"/>
<rect x="518" y="486" width="45" height="69" rx="6" fill="#f4f3e8" stroke="#e4cfcf" stroke-width="1.2"/>
<g stroke="#b3846f" stroke-width="1.3" fill="#f6d5c2">
<path d="M660,450 C700,460 735,485 750,505 C748,520 730,522 715,515 L670,495 Z"/>
<path d="M590,480 C620,470 660,460 695,475 C720,490 725,540 715,570 C690,578 640,576 610,570 C590,550 580,510 590,480 Z"/>
<ellipse cx="585" cy="532" rx="18" ry="18"/>
<path d="M605,545 L700,540 L705,570 L610,575 Z"/>
<ellipse cx="620" cy="448" rx="46" ry="58"/>
</g>
<path d="M576,445 C575,410 595,390 625,390 C650,390 665,410 665,440 C650,420 630,412 610,415 C595,420 585,430 578,460 Z" fill="#e4e39a"/>
<circle cx="614" cy="465" r="4" fill="#3f9a98"/><circle cx="647" cy="457" r="4" fill="#3f9a98"/>

<!-- BABY 3 -->
<g stroke="#b3846f" stroke-width="1.3" fill="#f6d6c8">
<path d="M865,455 C860,435 865,415 880,408 L900,412 C920,415 950,420 970,440 L960,470 Z"/>
<path d="M850,505 C845,470 870,445 910,440 C950,440 990,460 1010,480 C1030,500 1025,520 1000,530 C980,545 960,560 940,560 C910,555 880,550 860,540 Z"/>
<path d="M1000,500 L1020,520 C990,550 940,580 905,598 L888,590 C900,575 950,540 990,505 Z"/>
<ellipse cx="1031" cy="437" rx="50" ry="46"/>
</g>
<path d="M1040,392 C1065,395 1082,415 1083,440 C1080,460 1072,470 1065,475 C1068,450 1060,420 1040,392 Z" fill="#f2c09a"/>
<circle cx="1018" cy="420" r="3" fill="#4a3028"/><circle cx="1046" cy="434" r="3" fill="#4a3028"/>

<!-- ROW CIRCLES -->
<use href="#orSparse" transform="translate(314 731) scale(0.78)"/>
<use href="#gr4d" transform="translate(640 728) scale(0.785)"/>
<use href="#bl4d" transform="translate(932 727) scale(0.79)"/>

<use href="#orMid" transform="translate(318 908) scale(0.79)"/>
<use href="#gr4m" transform="translate(639 908) scale(0.785)"/>
<use href="#bl4m" transform="translate(937 909) scale(0.79)"/>

<use href="#orFull" transform="translate(316 1091) scale(0.785)"/>
<use href="#grFull" transform="translate(640 1091) scale(0.79)"/>
<use href="#blFull" transform="translate(936 1087) scale(0.79)"/>

<!-- TEXT -->
<text class="t" x="47" y="128">Mother</text>
<text class="t c" x="164" y="626">Vaginally born/Breast feed</text>
<text class="t c" x="518" y="626">Vaginally born/Bottle feed</text>
<text class="t c" x="874" y="628">C-section</text>
<text class="t" x="49" y="762">4 days</text>
<text class="t" x="49" y="936">4 month</text>
<text class="t" x="48" y="1098">12 month</text>
</svg>
</body></html>
